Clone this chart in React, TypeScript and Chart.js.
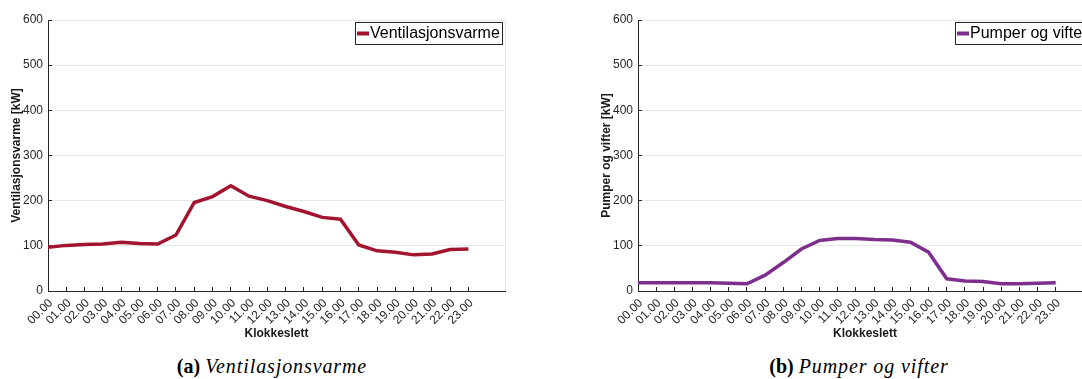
import React, { useEffect, useRef } from 'react';
import { Chart, registerables } from 'chart.js';

Chart.register(...registerables);

// Hour-of-day categories along the x axis
const hours = [
  '00.00', '01.00', '02.00', '03.00', '04.00', '05.00', '06.00', '07.00',
  '08.00', '09.00', '10.00', '11.00', '12.00', '13.00', '14.00', '15.00',
  '16.00', '17.00', '18.00', '19.00', '20.00', '21.00', '22.00', '23.00',
];

// Hourly load in kW
const ventilasjonsvarme = [
  97, 101, 103, 104, 108, 105, 104, 124, 196, 209, 233, 210,
  200, 187, 176, 163, 159, 102, 89, 86, 80, 82, 92, 93,
];
const pumperOgVifter = [
  18, 18, 18, 18.5, 18, 17, 16, 35, 63, 93, 112, 116,
  116, 114, 113, 108, 86, 27, 22, 21, 16, 16, 17, 18,
];

// y axis range and step
const yMin = 0;
const yMax = 600;
const yStep = 100;
// x axis extends two slots past the last hour
const xMax = 25;

const SANS = '"Liberation Sans", Arial, Helvetica, sans-serif';
const SERIF = '"Liberation Serif", "Times New Roman", serif';
const AXIS = '#262626';
const GRID = '#e6e6e6';
const CLEAR = 'rgba(0,0,0,0)';

const CANVAS_W = 540;
const CANVAS_H = 345;

// Boxed legend in the upper-right corner of the plot area
const boxLegend = {
  id: 'boxLegend',
  afterDraw(chart: any) {
    const { ctx, chartArea } = chart;
    const ds = chart.data.datasets[0];
    ctx.save();
    ctx.font = `16px ${SANS}`;
    const tw = ctx.measureText(ds.label).width;
    const h = 22;
    const w = Math.round(tw + 17);
    const right = Math.round(chartArea.right - 3);
    const left = right - w;
    const top = Math.round(chartArea.top + 2);
    ctx.fillStyle = '#ffffff';
    ctx.fillRect(left, top, w, h);
    ctx.strokeStyle = AXIS;
    ctx.lineWidth = 1;
    ctx.strokeRect(left + 0.5, top + 0.5, w, h);
    ctx.strokeStyle = ds.borderColor;
    ctx.lineWidth = 4;
    ctx.beginPath();
    ctx.moveTo(left + 2, top + h / 2 + 0.5);
    ctx.lineTo(left + 14, top + h / 2 + 0.5);
    ctx.stroke();
    ctx.fillStyle = '#000000';
    ctx.textBaseline = 'middle';
    ctx.textAlign = 'left';
    ctx.fillText(ds.label, left + 15, top + h / 2 + 1);
    ctx.restore();
  },
};

type PanelProps = {
  values: number[];
  label: string;
  color: string;
  yTitle: string;
  plotRight: number;
};

function LinePanel({ values, label, color, yTitle, plotRight }: PanelProps) {
  const ref = useRef<HTMLCanvasElement>(null);

  useEffect(() => {
    const chart = new Chart(ref.current as HTMLCanvasElement, {
      type: 'line',
      data: {
        datasets: [
          {
            label,
            data: values.map((v, i) => ({ x: i, y: v })),
            borderColor: color,
            backgroundColor: color,
            borderWidth: 3.5,
            pointRadius: 0,
            tension: 0,
            fill: false,
          },
        ],
      },
      options: {
        animation: false,
        responsive: false,
        maintainAspectRatio: false,
        layout: { padding: { left: 0, right: CANVAS_W - plotRight, top: 20, bottom: 0 } },
        plugins: { legend: { display: false }, tooltip: { enabled: false } },
        scales: {
          x: {
            type: 'linear',
            min: 0,
            max: xMax,
            afterBuildTicks: (scale: any) => {
              scale.ticks = hours.map((_, i) => ({ value: i })).concat([{ value: xMax }]);
            },
            afterFit: (scale: any) => {
              scale.height = CANVAS_H - 291;
            },
            ticks: {
              autoSkip: false,
              minRotation: 45,
              maxRotation: 45,
              padding: 9,
              labelOffset: 3,
              color: AXIS,
              font: { family: SANS, size: 12 },
              callback: (v: any) => hours[v as number] ?? '',
            },
            grid: {
              display: true,
              drawOnChartArea: true,
              drawTicks: true,
              tickLength: -4,
              lineWidth: 1,
              color: (c: any) => (c.tick && c.tick.value === xMax ? GRID : CLEAR),
              tickColor: (c: any) => (c.tick && c.tick.value < hours.length ? AXIS : CLEAR),
            },
            border: { display: true, color: AXIS, width: 1 },
            title: {
              display: true,
              text: 'Klokkeslett',
              color: '#1a1a1a',
              font: { family: SANS, size: 12, weight: 'bold' },
              padding: { top: 0, bottom: 4 },
            },
          },
          y: {
            type: 'linear',
            min: yMin,
            max: yMax,
            afterFit: (scale: any) => {
              scale.width = 48;
            },
            ticks: {
              stepSize: yStep,
              padding: 9,
              color: AXIS,
              font: { family: SANS, size: 12 },
            },
            grid: {
              color: GRID,
              lineWidth: 1,
              drawTicks: true,
              tickLength: -4,
              tickColor: AXIS,
            },
            border: { display: true, color: AXIS, width: 1 },
            title: {
              display: true,
              text: yTitle,
              color: '#1a1a1a',
              font: { family: SANS, size: 12, weight: 'bold' },
              padding: { top: 9, bottom: 0 },
            },
          },
        },
      } as any,
      plugins: [boxLegend],
    });
    return () => chart.destroy();
  }, []);

  return (
    <canvas
      ref={ref}
      width={CANVAS_W}
      height={CANVAS_H}
      style={{ display: 'block', width: CANVAS_W, height: CANVAS_H }}
    />
  );
}

const captionStyle: React.CSSProperties = {
  position: 'absolute',
  top: 355,
  width: 300,
  textAlign: 'center',
  fontFamily: SERIF,
  fontSize: 20,
  lineHeight: '22px',
  color: '#000',
  whiteSpace: 'nowrap',
};

export default function App() {
  return (
    <div
      style={{
        position: 'absolute',
        left: 0,
        top: 0,
        width: 1082,
        height: 379,
        overflow: 'hidden',
        background: '#fff',
      }}
    >
      <div style={{ position: 'absolute', left: 0, top: 0 }}>
        <LinePanel
          values={ventilasjonsvarme}
          label="Ventilasjonsvarme"
          color="#a2142f"
          yTitle="Ventilasjonsvarme [kW]"
          plotRight={505}
        />
      </div>
      <div style={{ position: 'absolute', left: 590, top: 0 }}>
        <LinePanel
          values={pumperOgVifter}
          label="Pumper og vifter"
          color="#7e2f8e"
          yTitle="Pumper og vifter [kW]"
          plotRight={502}
        />
      </div>
      <div style={{ ...captionStyle, left: 122 }}>
        <b>(a)</b> <i style={{ letterSpacing: '0.9px' }}>Ventilasjonsvarme</i>
      </div>
      <div style={{ ...captionStyle, left: 709 }}>
        <b>(b)</b> <i style={{ letterSpacing: '0.9px' }}>Pumper og vifter</i>
      </div>
    </div>
  );
}
